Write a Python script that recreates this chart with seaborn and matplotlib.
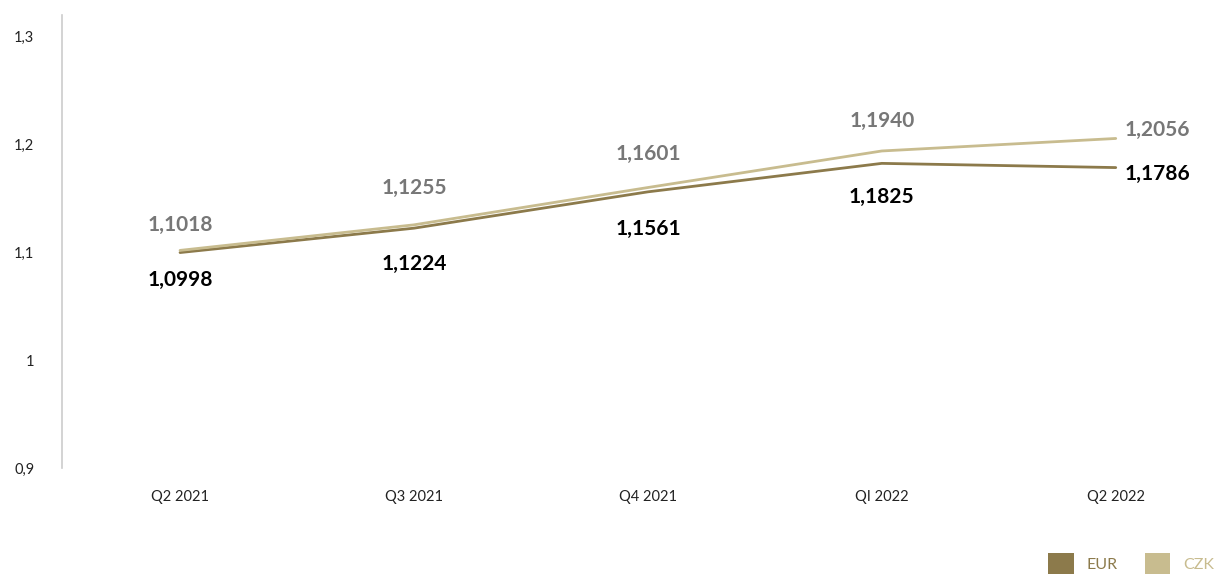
import matplotlib
matplotlib.use("Agg")
import matplotlib.pyplot as plt
import seaborn as sns
import pandas as pd
from matplotlib.patches import Patch
from matplotlib.ticker import FuncFormatter

quarters = ["Q2 2021", "Q3 2021", "Q4 2021", "QI 2022", "Q2 2022"]
eur = [1.0998, 1.1224, 1.1561, 1.1825, 1.1786]
czk = [1.1018, 1.1255, 1.1601, 1.1940, 1.2056]
yticks = [0.9, 1.0, 1.1, 1.2, 1.3]

# label offsets in points (layout, not data)
czk_off = [(0, 18), (0, 26.5), (0, 24), (0, 21.5), (6.5, 6)]
eur_off = [(0, -19.5), (0, -26), (0, -26.5), (0, -24), (6.5, -4.5)]

EUR_C = "#8C7A4B"
CZK_C = "#C8BC8F"

sns.set_theme(style="white")
plt.rcParams["font.family"] = ["Lato", "DejaVu Sans"]

df = pd.DataFrame({
    "x": list(range(len(quarters))) * 2,
    "v": eur + czk,
    "s": ["EUR"] * len(quarters) + ["CZK"] * len(quarters),
})

fig = plt.figure(figsize=(12.14, 5.81), dpi=100)
ax = fig.add_axes([0.051, 0.1945, 0.949, 0.7795])
sns.lineplot(data=df, x="x", y="v", hue="s", hue_order=["EUR", "CZK"],
             palette={"EUR": EUR_C, "CZK": CZK_C}, linewidth=2.0, ax=ax, legend=False)

ax.set_xlim(-0.505, 4.42)
ax.set_ylim(0.9, 1.32)
ax.set_yticks(yticks)
ax.yaxis.set_major_formatter(FuncFormatter(lambda v, p: (f"{v:.1f}".rstrip("0").rstrip(".")).replace(".", ",")))
ax.set_xticks(range(len(quarters)))
ax.set_xticklabels(quarters)
ax.tick_params(axis="x", length=0, pad=16, labelsize=10.5, colors="#222222")
ax.tick_params(axis="y", length=0, pad=20, labelsize=10.5, colors="#222222")
ax.set_xlabel("")
ax.set_ylabel("")
for s in ["top", "right", "bottom"]:
    ax.spines[s].set_visible(False)
ax.spines["left"].set_color("#cccccc")
ax.spines["left"].set_linewidth(1.2)

fmt = lambda v: f"{v:.4f}".replace(".", ",")
n = len(quarters)
for i in range(n):
    ha = "left" if i == n - 1 else "center"
    ax.annotate(fmt(czk[i]), (i, czk[i]), xytext=czk_off[i], textcoords="offset points",
                ha=ha, va="center", fontsize=15, fontweight="bold", color="#777777")
    ax.annotate(fmt(eur[i]), (i, eur[i]), xytext=eur_off[i], textcoords="offset points",
                ha=ha, va="center", fontsize=15, fontweight="bold", color="#000000")

handles = [Patch(facecolor=EUR_C, edgecolor="none", label="EUR"),
           Patch(facecolor=CZK_C, edgecolor="none", label="CZK")]
leg = fig.legend(handles=handles, loc="lower right", bbox_to_anchor=(1.012, -0.012), ncol=2,
                 frameon=False, fontsize=11.5, handlelength=1.6, handleheight=1.6,
                 columnspacing=1.7, handletextpad=0.8)
for t, c in zip(leg.get_texts(), [EUR_C, CZK_C]):
    t.set_color(c)

fig.savefig("out.png", dpi=100)
